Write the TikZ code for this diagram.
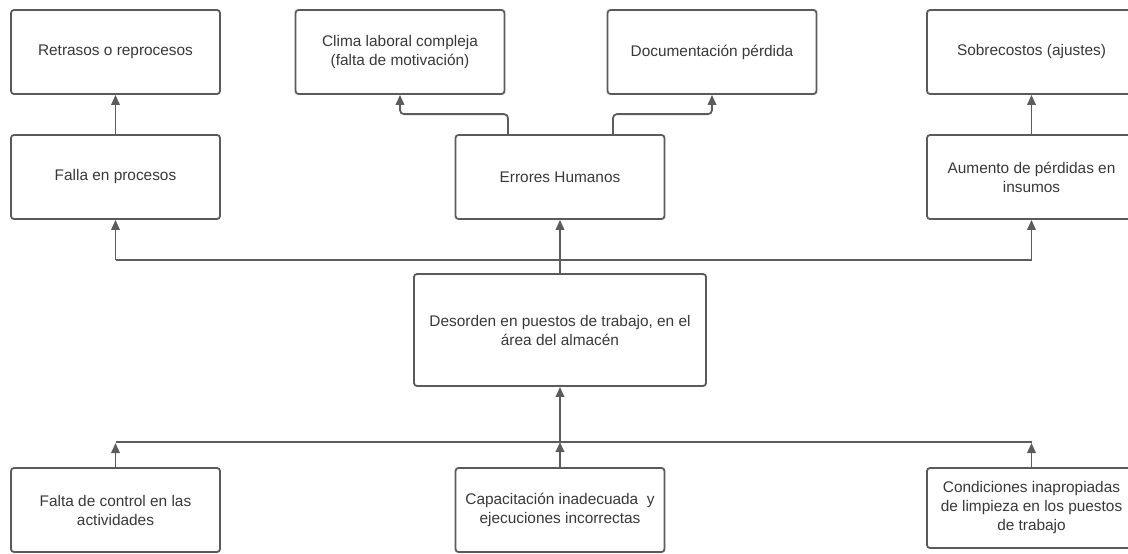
\documentclass[tikz,border=0pt]{standalone}
\usepackage{fontspec}
\setmainfont{Liberation Sans}
\usetikzlibrary{arrows.meta,positioning}
\definecolor{boxgray}{HTML}{5A5A5A}
\definecolor{linegray}{HTML}{5C5C5C}
\definecolor{txtgray}{HTML}{383838}

\begin{document}
\begin{tikzpicture}[x=1pt, y=-1pt,
      box/.style={draw=boxgray, line width=1.8pt, rounded corners=3pt, align=center,
                  minimum width=209pt, minimum height=84pt, inner sep=2pt, text=txtgray,
                  font=\fontsize{15.4pt}{19pt}\selectfont},
      conn/.style={linegray, line width=1.8pt},
      arr/.style={-{Triangle[length=10pt, width=8.5pt]}, linegray, line width=1.8pt}]
    \clip (0,0) rectangle (1128,554);
    \useasboundingbox (0,0) rectangle (1128,554);
    % efectos
    \node[box] (retr) at (115.5,52) {Retrasos o reprocesos};
    \node[box] (clima) at (400,52) {Clima laboral compleja\\(falta de motivación)};
    \node[box] (doc) at (712,52) {Documentación pérdida};
    \node[box] (sobre) at (1031.5,52) {Sobrecostos (ajustes)};
    \node[box] (falla) at (115.5,177) {Falla en procesos};
    \node[box] (err) at (560,177) {Errores Humanos};
    \node[box] (aum) at (1031.5,177) {Aumento de pérdidas en\\insumos};
    % problema central
    \node[box, minimum width=292pt, minimum height=112pt] (des) at (560,330)
        {Desorden en puestos de trabajo, en el\\área del almacén};
    % causas
    \node[box] (falta) at (115.5,510) {Falta de control en las\\actividades};
    \node[box] (cap) at (560,510) {Capacitación inadecuada\ \ y\\ejecuciones incorrectas};
    \node[box, minimum height=80pt] (cond) at (1031.5,508)
        {Condiciones inapropiadas\\de limpieza en los puestos\\de trabajo};
    \coordinate (topbus) at (560,260);
    \coordinate (lowbus) at (560,442);
    % arriba
    \draw[arr] (falla) -- (retr);
    \draw[arr] (aum) -- (sobre);
    \draw[arr, rounded corners=4pt] ([xshift=-52pt]err.north) -- ++(0,-20) -| (clima.south);
    \draw[arr, rounded corners=4pt] ([xshift=53pt]err.north) -- ++(0,-20) -| (doc.south);
    \draw[conn] (falla.south |- topbus) -- (aum.south |- topbus);
    \draw[conn] (des.north) -- (topbus);
    \draw[arr] (falla.south |- topbus) -- (falla.south);
    \draw[arr] (err.south |- topbus) -- (err.south);
    \draw[arr] (aum.south |- topbus) -- (aum.south);
    % abajo
    \draw[conn] (falta.north |- lowbus) -- (cond.north |- lowbus);
    \draw[arr] (falta.north) -- ([yshift=-1pt]falta.north |- lowbus);
    \draw[arr] (cap.north) -- (cap.north |- lowbus);
    \draw[arr] (cond.north) -- ([yshift=-1pt]cond.north |- lowbus);
    \draw[arr] (cap.north |- lowbus) -- (cap.north |- des.south);
  \end{tikzpicture}
\end{document}
